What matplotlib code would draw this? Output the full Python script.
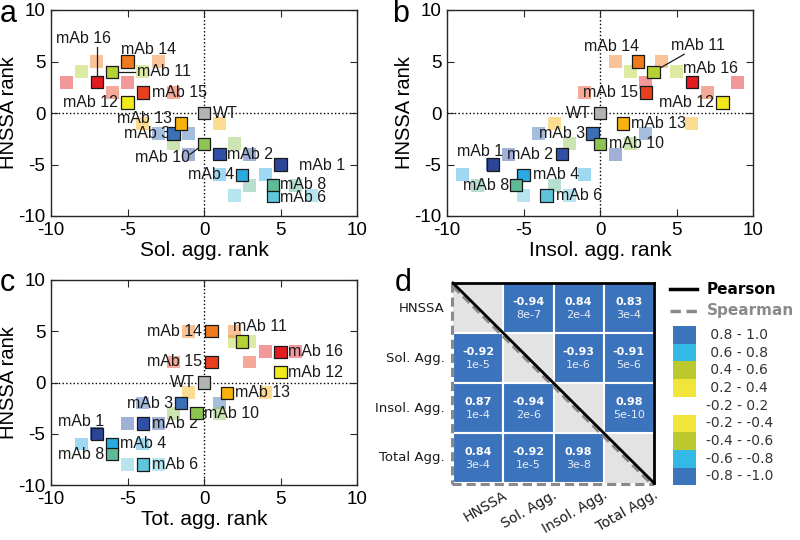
"""HNSSA rank vs aggregation rank scatter panels + correlation matrix."""

import matplotlib
matplotlib.use("Agg")
import matplotlib.pyplot as plt
from matplotlib.patches import Rectangle
from matplotlib.lines import Line2D

plt.rcParams["font.family"] = ["Liberation Sans", "DejaVu Sans"]
plt.rcParams["axes.unicode_minus"] = False

# ---- data -----------------------------------------------------------------
MABS = ["mAb 1", "mAb 2", "mAb 3", "mAb 4", "mAb 6", "mAb 8", "mAb 10",
        "mAb 11", "mAb 12", "mAb 13", "mAb 14", "mAb 15", "mAb 16", "WT"]
MAB_COLORS = ["#2c4596", "#3050a8", "#3b6fb6", "#29abe2", "#5ec5dc", "#5fba96",
              "#8dc452", "#b4d234", "#f1ea1a", "#f7b20b", "#f07a1c", "#e8401e",
              "#e31b23", "#b3b3b3"]

HNSSA_RANK = [-5, -4, -2, -6, -8, -7, -3, 4, 1, -1, 5, 2, 3, 0]

SOL_RANK = [5, 1, -2, 2.5, 4.5, 4.5, 0, -6, -5, -1.5, -5, -4, -7, 0]
SOL_REP1 = [5, -1, -3, 1, 2, 3, -2, -8, -5, -4, -7, -6, -9, 0]
SOL_REP2 = [5, 3, -1, 4, 7, 6, 2, -4, -5, 1, -3, -2, -5, 0]

INSOL_RANK = [-7, -2.5, -0.5, -5, -3.5, -5.5, 0, 3.5, 8, 1.5, 2.5, 3, 6, 0]
INSOL_REP1 = [-7, -6, -4, -9, -5, -8, -2, 2, 8, -3, 1, -1, 3, 0]
INSOL_REP2 = [-7, 1, 3, -1, -2, -3, 2, 5, 8, 6, 4, 7, 9, 0]

TOT_RANK = [-7, -4, -1.5, -6, -4, -6, -0.5, 2.5, 5, 1.5, 0.5, 0.5, 5, 0]
TOT_REP1 = [-7, -5, -4, -8, -5, -6, -2, 2, 5, -1, -1, -2, 4, 0]
TOT_REP2 = [-7, -3, 1, -4, -3, -6, 1, 3, 5, 4, 2, 3, 6, 0]

# label placement per panel: (x, y, ha)
LABELS_A = [(6.2, -5.1, "left"), (1.5, -4, "left"), (-2.2, -2, "right"),
            (2.0, -6, "right"), (5.0, -8.2, "left"), (5.0, -6.9, "left"),
            (-0.9, -4.3, "right"), (-4.4, 4, "left"), (-5.6, 1, "right"),
            (-2.1, -0.55, "right"), (-3.6, 6.2, "center"), (-3.4, 2, "left"),
            (-7.9, 7.2, "center"), (0.6, 0, "left")]
LABELS_B = [(-6.3, -3.7, "right"), (-3.05, -4, "right"), (-0.95, -2, "right"),
            (-4.4, -6, "left"), (-2.85, -8, "left"), (-5.95, -7, "right"),
            (0.6, -3, "left"), (6.4, 6.6, "center"), (7.45, 1, "right"),
            (2.0, -1, "left"), (0.75, 6.5, "center"), (2.5, 2, "right"),
            (7.25, 4.35, "center"), (-0.6, 0, "right")]
LABELS_C = [(-6.55, -3.8, "right"), (-3.4, -4, "left"), (-2.0, -2, "right"),
            (-5.5, -6, "left"), (-3.4, -8, "left"), (-6.5, -7, "right"),
            (0.0, -3, "left"), (1.9, 5.5, "left"), (5.5, 1, "left"),
            (2.0, -1, "left"), (-0.15, 5, "right"), (-0.15, 2, "right"),
            (5.5, 3, "left"), (-0.6, 0, "right")]
# leader lines: (x0, y0, x1, y1)
LEADERS_A = [(-7, 6.4, -7, 3), (-4.5, 4, -6, 4), (-0.9, -4.0, 0, -3)]
LEADERS_B = [(5.5, 5.7, 3.5, 4)]
LEADERS_C = []

# correlation matrix (upper = Pearson, lower = Spearman)
CORR_NAMES = ["HNSSA", "Sol. Agg.", "Insol. Agg.", "Total Agg."]
CORR_R = [[None, -0.94, 0.84, 0.83],
          [-0.92, None, -0.93, -0.91],
          [0.87, -0.94, None, 0.98],
          [0.84, -0.92, 0.98, None]]
CORR_P = [[None, "8e-7", "2e-4", "3e-4"],
          ["1e-5", None, "1e-6", "5e-6"],
          ["1e-4", "2e-6", None, "5e-10"],
          ["3e-4", "1e-5", "3e-8", None]]

BIN_UPPER = [0.2, 0.4, 0.6, 0.8, 1.0]
BIN_COLORS = ["#ffffff", "#f2e53a", "#bcc92e", "#33b8e8", "#3c73bd"]
LEGEND_LABELS = [" 0.8 - 1.0", " 0.6 - 0.8", " 0.4 - 0.6", " 0.2 - 0.4",
                 "-0.2 - 0.2", "-0.2 - -0.4", "-0.4 - -0.6", "-0.6 - -0.8",
                 "-0.8 - -1.0"]
LEGEND_BINS = [4, 3, 2, 1, 0, 1, 2, 3, 4]


def bin_color(r):
    for upper, col in zip(BIN_UPPER, BIN_COLORS):
        if abs(r) <= upper:
            return col
    return BIN_COLORS[-1]


def scatter_panel(ax, x_main, rep1, rep2, labels, leaders, xlabel):
    ax.axhline(0, color="k", ls=":", lw=1, zorder=1)
    ax.axvline(0, color="k", ls=":", lw=1, zorder=1)
    for rep in (rep1, rep2):
        ax.scatter(rep, HNSSA_RANK, marker="s", s=85, c=MAB_COLORS,
                   alpha=0.45, edgecolors="none", zorder=2)
    for (tx, ty, ha), name in zip(labels, MABS):
        ax.text(tx, ty, name, ha=ha, va="center", fontsize=11.5,
                color="#1a1a1a", zorder=3)
    for x0, y0, x1, y1 in leaders:
        ax.plot([x0, x1], [y0, y1], color="#1a1a1a", lw=0.9, zorder=3)
    ax.scatter(x_main, HNSSA_RANK, marker="s", s=80, c=MAB_COLORS,
               edgecolors="#1a1a1a", linewidths=0.9, zorder=4)
    ax.set_xlim(-10, 10)
    ax.set_ylim(-10, 10)
    ax.set_xticks([-10, -5, 0, 5, 10])
    ax.set_yticks([-10, -5, 0, 5, 10])
    ax.tick_params(direction="in", top=True, right=True, length=5,
                   labelsize=13.5, pad=4, color="#262626")
    for sp in ax.spines.values():
        sp.set_color("#262626")
        sp.set_linewidth(1)
    ax.set_xlabel(xlabel, fontsize=15, labelpad=2)
    ax.set_ylabel("HNSSA rank", fontsize=14.5)
    ax.yaxis.set_label_coords(-0.108, 0.5)


fig = plt.figure(figsize=(8, 5.4), dpi=100)

ax_a = fig.add_axes([51 / 800, 1 - 216 / 540, 306 / 800, 206 / 540])
ax_b = fig.add_axes([447 / 800, 1 - 216 / 540, 306 / 800, 206 / 540])
ax_c = fig.add_axes([51 / 800, 1 - 485 / 540, 306 / 800, 205 / 540])

scatter_panel(ax_a, SOL_RANK, SOL_REP1, SOL_REP2, LABELS_A, LEADERS_A,
              "Sol. agg. rank")
scatter_panel(ax_b, INSOL_RANK, INSOL_REP1, INSOL_REP2, LABELS_B, LEADERS_B,
              "Insol. agg. rank")
scatter_panel(ax_c, TOT_RANK, TOT_REP1, TOT_REP2, LABELS_C, LEADERS_C,
              "Tot. agg. rank")

# ---- panel d: correlation matrix -----------------------------------------
DFONT = ["DejaVu Sans"]
ax_d = fig.add_axes([453 / 800, 1 - 483 / 540, 201 / 800, 200 / 540])
ax_d.set_xlim(0, 4)
ax_d.set_ylim(4, 0)
ax_d.axis("off")
n = len(CORR_NAMES)
ax_d.add_patch(Rectangle((0, 0), n, n, facecolor="#e3e3e3", edgecolor="none",
                         zorder=0))
for i in range(n):
    for j in range(n):
        r = CORR_R[i][j]
        if r is None:
            continue
        ax_d.add_patch(Rectangle((j, i), 1, 1, facecolor=bin_color(r),
                                 edgecolor="white", lw=1.5, zorder=1))
        ax_d.text(j + 0.5, i + 0.38, f"{r:.2f}", ha="center", va="center",
                  color="white", fontsize=8, fontweight="bold", family=DFONT,
                  zorder=2)
        ax_d.text(j + 0.5, i + 0.64, CORR_P[i][j], ha="center", va="center",
                  color="#e8eef8", fontsize=8, family=DFONT, zorder=2)

dash_kw = dict(color="#8a8a8a", lw=2.2, dashes=(3, 1.6), clip_on=False, zorder=3)
solid_kw = dict(color="black", lw=2, clip_on=False, zorder=4)
ax_d.plot([0, n - 0.07], [0.07, n], **dash_kw)
ax_d.plot([-0.02, -0.02], [0, n + 0.02], **dash_kw)
ax_d.plot([-0.02, n], [n + 0.02, n + 0.02], **dash_kw)
ax_d.plot([0, n], [0, n], **solid_kw)
ax_d.plot([0, n], [0, 0], **solid_kw)
ax_d.plot([n, n], [0, n], **solid_kw)

for k, name in enumerate(CORR_NAMES):
    ax_d.text(-0.16, k + 0.5, name, ha="right", va="center", fontsize=9.5,
              family=DFONT, color="#1a1a1a")
    ax_d.text(k + 0.98, n + 0.1, name, ha="right", va="top", fontsize=10,
              family=DFONT, color="#1a1a1a", rotation=30,
              rotation_mode="anchor")

# legend drawn in pixel-like coordinates
ax_l = fig.add_axes([660 / 800, 1 - 490 / 540, 140 / 800, 215 / 540])
ax_l.set_xlim(0, 140)
ax_l.set_ylim(215, 0)
ax_l.axis("off")
ax_l.add_line(Line2D([10, 37], [14, 14], color="black", lw=2.5))
ax_l.add_line(Line2D([10, 37], [36, 36], color="#8a8a8a", lw=2.5,
                     dashes=(3, 1.6)))
ax_l.text(47, 14, "Pearson", ha="left", va="center", fontsize=11,
          fontweight="bold", family=DFONT, color="black")
ax_l.text(47, 36, "Spearman", ha="left", va="center", fontsize=11,
          fontweight="bold", family=DFONT, color="#8a8a8a")
row_h = 17.7
for k, (lab, b) in enumerate(zip(LEGEND_LABELS, LEGEND_BINS)):
    y0 = 51 + k * row_h
    ax_l.add_patch(Rectangle((13, y0), 23, row_h, facecolor=BIN_COLORS[b],
                             edgecolor="none"))
    ax_l.text(46, y0 + row_h / 2, lab, ha="left", va="center", fontsize=10,
              family=DFONT, color="#333333")

# panel letters
fig.text(0.0, 1 - 14 / 540, "a", fontsize=22, va="center", ha="left")
fig.text(392 / 800, 1 - 14 / 540, "b", fontsize=22, va="center", ha="left")
fig.text(0.0, 1 - 283 / 540, "c", fontsize=22, va="center", ha="left")
fig.text(395 / 800, 1 - 283 / 540, "d", fontsize=22, va="center", ha="left")

fig.savefig("out.png", dpi=100)
